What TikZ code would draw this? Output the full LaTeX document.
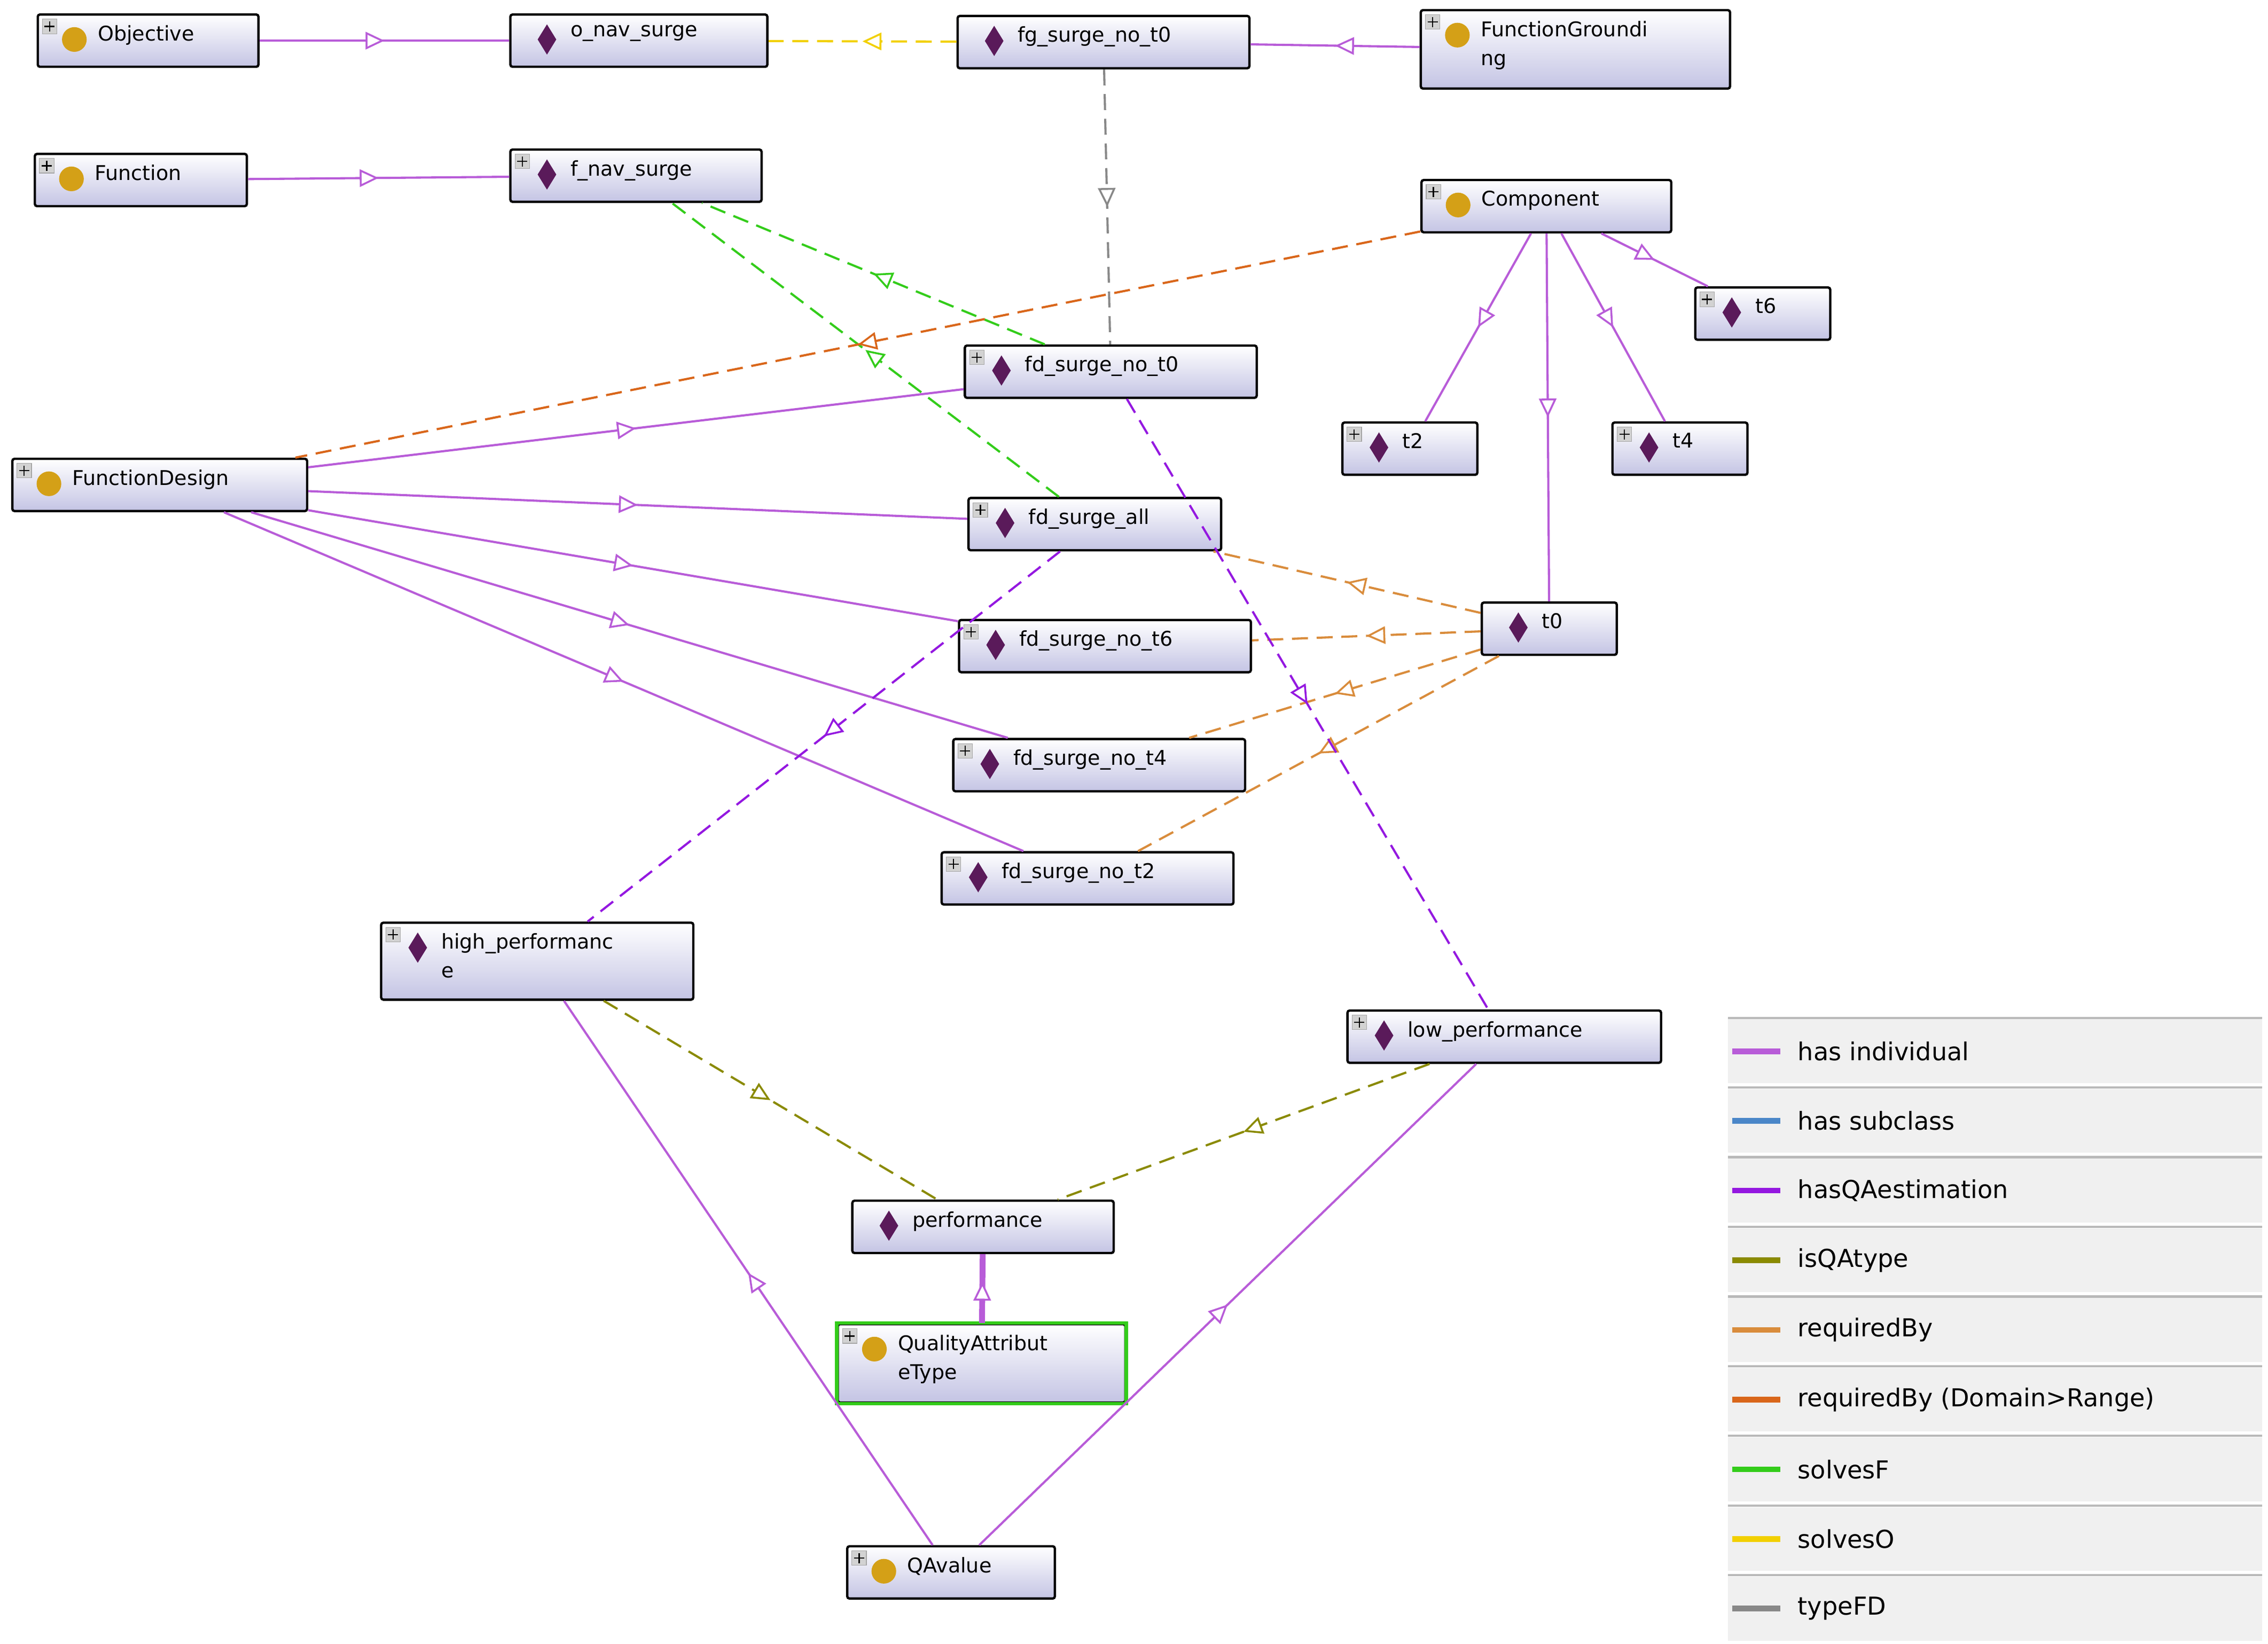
\documentclass[tikz,border=0pt]{standalone}
\usepackage{fontspec}
\setmainfont{DejaVu Sans}
\usetikzlibrary{shapes.geometric,calc,arrows.meta,decorations.markings}

\definecolor{hasind}{HTML}{B85CD8}
\definecolor{hassub}{HTML}{4A86C8}
\definecolor{hasqa}{HTML}{9418E0}
\definecolor{isqa}{HTML}{8A8A00}
\definecolor{reqby}{HTML}{D98C3C}
\definecolor{reqdr}{HTML}{D9661A}
\definecolor{solf}{HTML}{33CC1A}
\definecolor{solo}{HTML}{F2D000}
\definecolor{typefd}{HTML}{888888}
\definecolor{boxbot}{HTML}{C4C4E4}
\definecolor{clsdot}{HTML}{D4A017}
\definecolor{inddot}{HTML}{5A1A5A}

\tikzset{
  obox/.style = {draw=black, line width=1.6pt, rounded corners=1.5pt, top color=white, bottom color=boxbot, inner sep=0pt},
  ico class/.style = {circle, fill=clsdot, minimum size=17pt, inner sep=0pt},
  ico indiv/.style = {diamond, fill=inddot, minimum width=13pt, minimum height=21pt, inner sep=0pt},
  otext/.style = {anchor=north west, font=\fontsize{14}{20}\selectfont, align=left, inner sep=0pt},
  mid/.style = {postaction=decorate, decoration={markings, mark=at position #1 with {\arrow{Triangle[fill=white, length=13pt, width=12pt, line width=1.3pt]}}}},
  mid/.default = .5,
  rel/.style = {line width=1.5pt, mid},
  dsh/.style = {dash pattern=on 11pt off 6pt},
  leg/.style = {font=\fontsize{17}{20}\selectfont, anchor=west, inner sep=0pt}
}

% name, position, width, height, icon, text
\newcommand{\onto}[6]{%
  \node[obox, minimum width=#3, minimum height=#4] (#1) at (#2) {};
  \node[ico #5] at ($(#1.north west)+(26,18)$) {};
  \node[otext] at ($(#1.north west)+(42,8)$) {#6};
}
\newcommand{\plusbox}[1]{%
  \draw[fill=gray!35, draw=gray!70] ($(#1.north west)+(4,4)$) rectangle ++(10,10);
  \draw[line width=0.8pt] ($(#1.north west)+(9,5.5)$) -- ++(0,7) ($(#1.north west)+(5.5,9)$) -- ++(7,0);
}

\begin{document}
\begin{tikzpicture}[x=1pt, y=-1pt]
\useasboundingbox (0,0) rectangle (1562,1132);

% nodes
\onto{objective}{102,28}{152}{36}{class}{Objective}
\onto{onav}{440,28}{177}{36}{indiv}{o\_nav\_surge}
\onto{fgnot0}{760,29}{201}{36}{indiv}{fg\_surge\_no\_t0}
\onto{fground}{1085,34}{213}{54}{class}{FunctionGroundi\\ng}
\onto{function}{97,124}{146}{36}{class}{Function}
\onto{fnav}{438,121}{173}{36}{indiv}{f\_nav\_surge}
\onto{component}{1065,142}{172}{36}{class}{Component}
\onto{t6}{1214,216}{93}{36}{indiv}{t6}
\onto{fdnot0}{765,256}{201}{36}{indiv}{fd\_surge\_no\_t0}
\onto{t2}{971,309}{93}{36}{indiv}{t2}
\onto{t4}{1157,309}{93}{36}{indiv}{t4}
\onto{fdesign}{110,334}{203}{36}{class}{FunctionDesign}
\onto{fdall}{754,361}{174}{36}{indiv}{fd\_surge\_all}
\onto{t0}{1067,433}{93}{36}{indiv}{t0}
\onto{fdnot6}{761,445}{201}{36}{indiv}{fd\_surge\_no\_t6}
\onto{fdnot4}{757,527}{201}{36}{indiv}{fd\_surge\_no\_t4}
\onto{fdnot2}{749,605}{201}{36}{indiv}{fd\_surge\_no\_t2}
\onto{highperf}{370,662}{215}{53}{indiv}{high\_performanc\\e}
\onto{lowperf}{1036,714}{216}{36}{indiv}{low\_performance}
\onto{perf}{677,845}{180}{36}{indiv}{performance}
\onto{qatype}{676,939}{198}{54}{class}{QualityAttribut\\eType}
\draw[solf, line width=2.5pt] (qatype.north west) rectangle (qatype.south east);
\onto{qavalue}{655,1083}{143}{36}{class}{QAvalue}

\foreach \n in {objective,fground,function,fnav,component,t6,fdnot0,t2,t4,fdesign,fdall,fdnot6,fdnot4,fdnot2,highperf,lowperf,qatype,qavalue}
  \plusbox{\n};

% has individual
\draw[rel, hasind] (objective) -- (onav);
\draw[rel, hasind] (function) -- (fnav);
\draw[rel, hasind] (fground) -- (fgnot0);
\draw[rel, hasind] (fdesign) -- (fdnot0);
\draw[rel, hasind] (fdesign) -- (fdall);
\draw[rel, hasind] (fdesign) -- (fdnot6);
\draw[rel, hasind] (fdesign) -- (fdnot4);
\draw[rel, hasind] (fdesign) -- (fdnot2);
\draw[rel, hasind] (component) -- (t6);
\draw[rel, hasind] (component) -- (t2);
\draw[rel, hasind] (component) -- (t4);
\draw[rel, hasind] (component) -- (t0);
\draw[rel, hasind] (qavalue) -- (highperf);
\draw[rel, hasind] (qavalue) -- (lowperf);
\draw[hasind, line width=4pt, mid=.6] (qatype) -- (perf);

% object properties
\draw[rel, dsh, solo] (fgnot0) -- (onav);
\draw[rel, dsh, typefd] (fgnot0) -- (fdnot0);
\draw[rel, dsh, solf] (fdnot0) -- (fnav);
\draw[rel, dsh, solf] (fdall) -- (fnav);
\draw[rel, dsh, reqdr] (component) -- (fdesign);
\draw[rel, dsh, reqby] (t0) -- (fdall);
\draw[rel, dsh, reqby] (t0) -- (fdnot6);
\draw[rel, dsh, reqby] (t0) -- (fdnot4);
\draw[rel, dsh, reqby] (t0) -- (fdnot2);
\draw[rel, dsh, hasqa] (fdnot0) -- (lowperf);
\draw[rel, dsh, hasqa] (fdall) -- (highperf);
\draw[rel, dsh, isqa] (highperf) -- (perf);
\draw[rel, dsh, isqa] (lowperf) -- (perf);

% legend
\foreach \c/\t [count=\i] in {hasind/has individual, hassub/has subclass, hasqa/hasQAestimation, isqa/isQAtype, reqby/requiredBy, reqdr/requiredBy (Domain>Range), solf/solvesF, solo/solvesO, typefd/typeFD}{
  \fill[gray!12] (1190,676+48*\i-22) rectangle (1558,676+48*\i+22);
  \draw[gray!55, line width=1.5pt] (1190,676+48*\i-23) -- (1558,676+48*\i-23);
  \draw[\c, line width=4pt] (1193,676+48*\i) -- (1226,676+48*\i);
  \node[leg] at (1238,676+48*\i) {\t};
}
\end{tikzpicture}
\end{document}
